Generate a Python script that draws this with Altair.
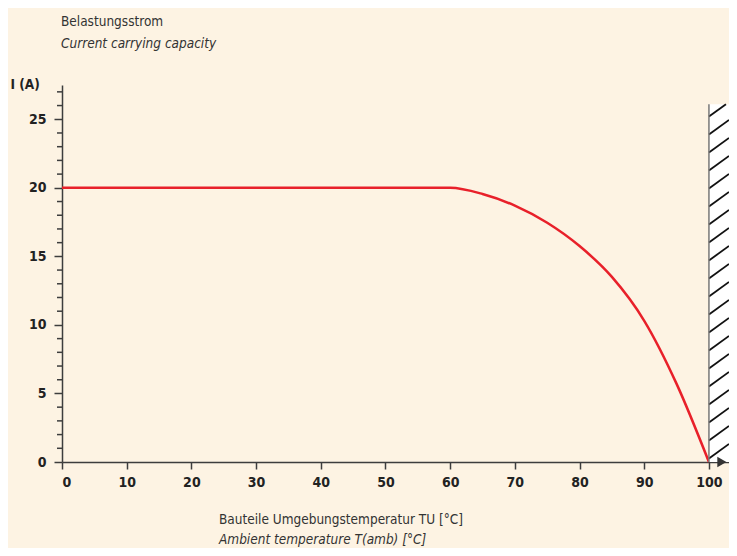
import altair as alt
import pandas as pd
import numpy as np

# ---- data ----
temp = [0, 10, 20, 30, 40, 50, 60, 65, 70, 75, 80, 85, 90, 95, 100]
current = [20, 20, 20, 20, 20, 20, 20, 19.55, 18.7, 17.45, 15.75, 13.5, 10.3, 5.7, 0]

x_ticks = [0, 10, 20, 30, 40, 50, 60, 70, 80, 90, 100]
y_major = [0, 5, 10, 15, 20, 25]
y_minor = [1, 2, 3, 4, 6, 7, 8, 9, 11, 12, 13, 14, 16, 17, 18, 19, 21, 22, 23, 24, 26, 27]

title_de = "Belastungsstrom"
title_en = "Current carrying capacity"
xlab_de = "Bauteile Umgebungstemperatur TU [°C]"
xlab_en = "Ambient temperature T(amb) [°C]"
ylab = "I (A)"

# ---- geometry ----
X_MAX = 103.1
Y_MAX = 27.5
LIMIT_T = 100
HATCH_TOP = 26.1
W, H = 667, 377

FONT = "DejaVu Sans Condensed, Liberation Sans Narrow, sans-serif"
BG = "#FDF3E3"
AX = "#3d3d3d"

df = pd.DataFrame({"T": temp, "I": current})

xs = alt.Scale(domain=[0, X_MAX], nice=False, zero=False)
ys = alt.Scale(domain=[0, Y_MAX], nice=False, zero=False)

# hatched forbidden zone
zone = pd.DataFrame({"x": [LIMIT_T], "x2": [X_MAX], "y": [0], "y2": [HATCH_TOP]})
slope = 0.72 * (W / X_MAX) / (H / Y_MAX)
spacing = 18 / (H / Y_MAX)
segs = []
span = X_MAX - LIMIT_T
for y0 in np.arange(-slope * span, HATCH_TOP, spacing):
    if y0 >= 0:
        x1, y1 = LIMIT_T, y0
    else:
        x1, y1 = LIMIT_T + (-y0) / slope, 0.0
    yend = y0 + slope * span
    if yend <= HATCH_TOP:
        x2, y2 = X_MAX, yend
    else:
        x2 = LIMIT_T + (HATCH_TOP - y0) / slope
        y2 = HATCH_TOP
    segs.append({"x": x1, "y": y1, "x2": x2, "y2": y2})
hatch = pd.DataFrame(segs)

line = alt.Chart(df).mark_line(color="#E8202A", strokeWidth=2.5, interpolate="monotone").encode(
    x=alt.X("T:Q", scale=xs,
            axis=alt.Axis(values=x_ticks, title=None, tickSize=7, labelPadding=6,
                          labelFontSize=14, labelFontWeight="bold", labelOverlap=False)),
    y=alt.Y("I:Q", scale=ys,
            axis=alt.Axis(values=y_major, title=ylab, titleAngle=0, titleX=-52, titleY=3,
                          titleAlign="left", titleBaseline="alphabetic",
                          titleFontSize=13.5, titleFontWeight="bold",
                          tickSize=8, labelPadding=8, labelOverlap=False,
                          labelFontSize=14, labelFontWeight="bold")),
)

minor = alt.Chart(pd.DataFrame({"v": y_minor})).mark_rule(color=AX, strokeWidth=1.5).encode(
    x=alt.value(-5), x2=alt.value(0), y=alt.Y("v:Q", scale=ys))

zone_rect = alt.Chart(zone).mark_rect(fill="white").encode(
    x=alt.X("x:Q", scale=xs), x2="x2:Q",
    y=alt.Y("y:Q", scale=ys), y2="y2:Q")
hatch_lines = alt.Chart(hatch).mark_rule(color="#111111", strokeWidth=1.8).encode(
    x=alt.X("x:Q", scale=xs), x2="x2:Q",
    y=alt.Y("y:Q", scale=ys), y2="y2:Q")
zone_edge = alt.Chart(zone).mark_rule(color="#777777", strokeWidth=1.5).encode(
    x=alt.X("x:Q", scale=xs), y=alt.Y("y:Q", scale=ys), y2="y2:Q")

arrow = alt.Chart(pd.DataFrame({"x": [X_MAX - 1.1], "y": [0]})).mark_point(
    shape="triangle-right", filled=True, color="#333333", size=110, opacity=1).encode(
    x=alt.X("x:Q", scale=xs), y=alt.Y("y:Q", scale=ys))

def label(txt, x, y, italic=False):
    return alt.Chart(pd.DataFrame({"t": [txt]})).mark_text(
        align="left", baseline="alphabetic", font=FONT, fontSize=13.5,
        fontStyle="italic" if italic else "normal", color="#333333").encode(
        text="t:N", x=alt.value(x), y=alt.value(y))

texts = (label(title_de, -1, -59) + label(title_en, -1, -37, True)
         + label(xlab_de, 157, 439) + label(xlab_en, 157, 459, True))

chart = alt.layer(line, minor, zone_rect, hatch_lines, zone_edge, arrow, texts).properties(
    width=W, height=H, background=BG,
    padding={"left": 54, "top": 77, "right": 0, "bottom": 86},
    autosize=alt.AutoSizeParams(type="none"),
).configure_view(stroke=None).configure_axis(
    grid=False, domainColor=AX, domainWidth=1.5, tickColor=AX, tickWidth=1.5,
    labelColor="#222222", labelFont=FONT, titleFont=FONT, titleColor="#222222",
)

chart.save("out.html", embed_options={"renderer": "svg", "actions": False})
